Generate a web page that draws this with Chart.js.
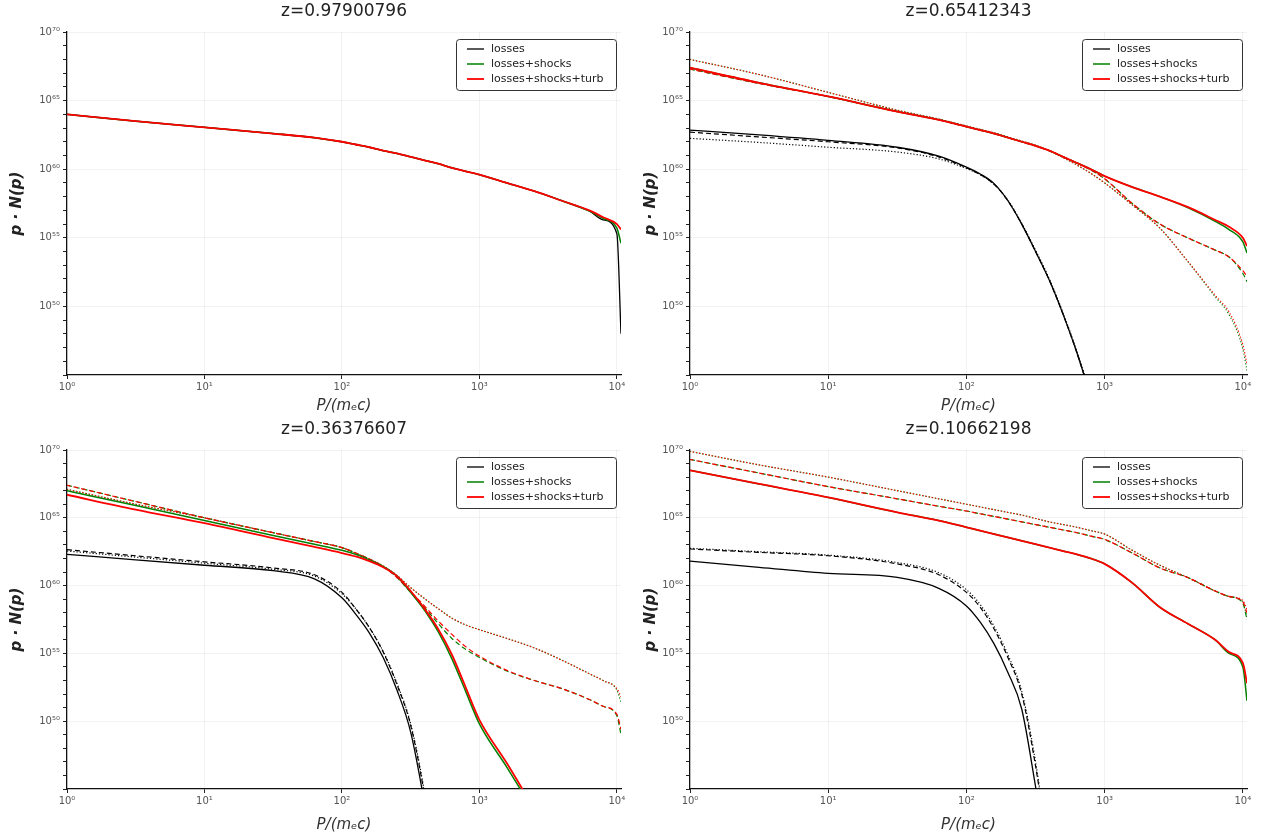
<!DOCTYPE html>
<html>
<head>
<meta charset="utf-8">
<script src="https://cdn.jsdelivr.net/npm/chart.js@4/dist/chart.umd.min.js"></script>
<style>
  body { margin: 0; background: #fff; }
  #wrap { position: relative; width: 1265px; height: 834px; overflow: hidden; }
  .panel { position: absolute; }
</style>
</head>
<body>
<div id="wrap">
  <div class="panel" style="left:0px;top:0px"><canvas id="c1" width="640" height="415"></canvas></div>
  <div class="panel" style="left:630px;top:0px"><canvas id="c2" width="635" height="415"></canvas></div>
  <div class="panel" style="left:0px;top:418px"><canvas id="c3" width="640" height="416"></canvas></div>
  <div class="panel" style="left:630px;top:418px"><canvas id="c4" width="635" height="416"></canvas></div>
</div>
<script>
// momentum grid, log10(p / m_e c)
const logP = [0, 0.5, 1, 1.5, 1.8, 2, 2.1, 2.2, 2.3, 2.4, 2.5, 2.6, 2.7, 2.8, 2.9, 3, 3.2, 3.4, 3.6, 3.8, 3.9, 4, 4.03];
const legendLabels = ["losses", "losses+shocks", "losses+shocks+turb"];
const panelTitles = ["z=0.97900796", "z=0.65412343", "z=0.36376607", "z=0.10662198"];
const yTickExps = [45, 46, 47, 48, 49, 50, 51, 52, 53, 54, 55, 56, 57, 58, 59, 60, 61, 62, 63, 64, 65, 66, 67, 68, 69, 70];
const yLabelExps = [50, 55, 60, 65, 70];
const xTickExps = [0, 1, 2, 3, 4];

// all series are log10(p * N(p))
// z = 0.979
const z1Black = [64.0, 63.5, 63.05, 62.6, 62.3, 62.0, 61.8, 61.6, 61.35, 61.15, 60.9, 60.65, 60.4, 60.1, 59.85, 59.6, 59.0, 58.4, 57.7, 56.95, 56.3, 55.3, 48.0];
const z1Green = [64.0, 63.5, 63.05, 62.6, 62.3, 62.0, 61.8, 61.6, 61.35, 61.15, 60.9, 60.65, 60.4, 60.1, 59.85, 59.6, 59.0, 58.4, 57.7, 56.95, 56.4, 55.7, 54.6];
const z1Red = [64.0, 63.5, 63.05, 62.6, 62.3, 62.0, 61.8, 61.6, 61.35, 61.15, 60.9, 60.65, 60.4, 60.1, 59.85, 59.6, 59.0, 58.4, 57.7, 57.0, 56.5, 56.0, 55.6];

// z = 0.654
const z2BlackSolid = [62.85, 62.5, 62.1, 61.6, 60.95, 60.15, 59.65, 58.95, 57.7, 56.0, 54.0, 51.9, 49.4, 46.6, 43.4, 40, null, null, null, null, null, null, null];
const z2BlackDash = [62.7, 62.35, 62.0, 61.55, 60.9, 60.1, 59.6, 58.9, 57.7, 56.0, 54.0, 51.9, 49.4, 46.6, 43.4, 40, null, null, null, null, null, null, null];
const z2BlackDot = [62.25, 61.95, 61.6, 61.25, 60.75, 60.05, 59.6, 58.9, 57.75, 56.05, 54.1, 52.0, 49.5, 46.7, 43.5, 40, null, null, null, null, null, null, null];
const z2GreenSolid = [67.4, 66.3, 65.3, 64.2, 63.6, 63.1, 62.85, 62.6, 62.3, 62.0, 61.7, 61.35, 60.9, 60.45, 60.0, 59.5, 58.7, 58.0, 57.2, 56.2, 55.6, 54.7, 53.9];
const z2RedSolid = [67.4, 66.3, 65.3, 64.2, 63.6, 63.1, 62.85, 62.6, 62.3, 62.0, 61.7, 61.35, 60.9, 60.45, 60.0, 59.5, 58.7, 58.0, 57.25, 56.3, 55.8, 55.0, 54.4];
const z2GreenDash = [67.3, 66.25, 65.3, 64.2, 63.6, 63.1, 62.85, 62.6, 62.3, 62.0, 61.7, 61.35, 60.9, 60.45, 59.95, 59.3, 57.5, 56.0, 55.0, 54.1, 53.6, 52.4, 51.8];
const z2RedDash = [67.3, 66.25, 65.3, 64.2, 63.6, 63.1, 62.85, 62.6, 62.3, 62.0, 61.7, 61.35, 60.9, 60.45, 59.95, 59.3, 57.5, 56.0, 55.0, 54.1, 53.6, 52.6, 52.2];
const z2GreenDot = [68.0, 66.9, 65.6, 64.3, 63.65, 63.15, 62.9, 62.65, 62.35, 62.05, 61.75, 61.35, 60.85, 60.3, 59.7, 59.0, 57.4, 55.7, 53.3, 50.7, 49.4, 46.9, 45.3];
const z2RedDot = [68.0, 66.9, 65.6, 64.3, 63.65, 63.15, 62.9, 62.65, 62.35, 62.05, 61.75, 61.35, 60.85, 60.3, 59.7, 59.0, 57.4, 55.7, 53.3, 50.8, 49.6, 47.2, 45.8];

// z = 0.364
const z3BlackSolid = [62.3, 61.9, 61.5, 61.1, 60.5, 59.1, 57.9, 56.5, 54.7, 52.3, 49.2, 44.0, 38, null, null, null, null, null, null, null, null, null, null];
const z3BlackDash = [62.65, 62.2, 61.75, 61.3, 60.8, 59.5, 58.3, 56.9, 55.1, 52.7, 49.7, 44.6, 38, null, null, null, null, null, null, null, null, null, null];
const z3BlackDot = [62.55, 62.1, 61.65, 61.2, 60.7, 59.4, 58.3, 56.9, 55.15, 52.8, 49.8, 44.8, 38, null, null, null, null, null, null, null, null, null, null];
const z3GreenSolid = [67.0, 65.9, 64.8, 63.7, 63.05, 62.6, 62.3, 61.9, 61.4, 60.7, 59.5, 58.2, 56.6, 54.6, 52.2, 49.8, 46.6, 43.3, 40, null, null, null, null];
const z3RedSolid = [66.7, 65.6, 64.6, 63.5, 62.85, 62.4, 62.15, 61.8, 61.35, 60.7, 59.6, 58.3, 56.8, 54.9, 52.5, 50.1, 46.9, 43.5, 40, null, null, null, null];
const z3GreenDash = [67.4, 66.2, 65.0, 63.9, 63.25, 62.8, 62.4, 61.95, 61.4, 60.6, 59.5, 58.4, 57.2, 56.1, 55.3, 54.7, 53.7, 53.0, 52.4, 51.6, 51.1, 50.4, 49.0];
const z3RedDash = [67.4, 66.2, 65.0, 63.9, 63.25, 62.8, 62.4, 61.95, 61.4, 60.6, 59.55, 58.5, 57.4, 56.4, 55.5, 54.8, 53.75, 53.0, 52.4, 51.6, 51.1, 50.5, 49.4];
const z3GreenDot = [67.1, 66.0, 65.0, 63.9, 63.25, 62.8, 62.4, 61.95, 61.45, 60.75, 59.85, 59.05, 58.3, 57.6, 57.1, 56.75, 56.1, 55.4, 54.5, 53.5, 53.0, 52.3, 51.4];
const z3RedDot = [67.1, 66.0, 65.0, 63.9, 63.25, 62.8, 62.4, 61.95, 61.45, 60.75, 59.85, 59.05, 58.3, 57.6, 57.1, 56.75, 56.1, 55.4, 54.5, 53.5, 53.0, 52.4, 51.8];

// z = 0.107
const z4BlackSolid = [61.8, 61.35, 60.9, 60.6, 59.8, 58.5, 57.3, 55.7, 53.6, 50.9, 45.2, 39, null, null, null, null, null, null, null, null, null, null, null];
const z4BlackDash = [62.7, 62.45, 62.2, 61.6, 60.8, 59.5, 58.4, 56.8, 54.7, 52.0, 46.7, 40, null, null, null, null, null, null, null, null, null, null, null];
const z4BlackDot = [62.75, 62.5, 62.25, 61.7, 60.95, 59.7, 58.6, 57.0, 54.9, 52.2, 47.0, 40, null, null, null, null, null, null, null, null, null, null, null];
const z4GreenSolid = [68.5, 67.5, 66.5, 65.4, 64.8, 64.3, 64.05, 63.8, 63.55, 63.3, 63.05, 62.8, 62.55, 62.3, 62.0, 61.6, 60.2, 58.4, 57.2, 56.0, 55.0, 54.0, 51.5];
const z4RedSolid = [68.5, 67.5, 66.5, 65.4, 64.8, 64.3, 64.05, 63.8, 63.55, 63.3, 63.05, 62.8, 62.55, 62.3, 62.0, 61.6, 60.2, 58.4, 57.2, 56.0, 55.1, 54.3, 52.8];
const z4GreenDash = [69.3, 68.3, 67.3, 66.4, 65.85, 65.5, 65.3, 65.1, 64.9, 64.7, 64.5, 64.3, 64.1, 63.9, 63.65, 63.4, 62.4, 61.3, 60.6, 59.6, 59.2, 58.7, 57.5];
const z4RedDash = [69.3, 68.3, 67.3, 66.4, 65.85, 65.5, 65.3, 65.1, 64.9, 64.7, 64.5, 64.3, 64.1, 63.9, 63.65, 63.4, 62.4, 61.3, 60.6, 59.6, 59.2, 58.8, 58.0];
const z4GreenDot = [69.9, 68.9, 68.0, 67.0, 66.4, 66.0, 65.8, 65.6, 65.4, 65.2, 64.95, 64.7, 64.5, 64.3, 64.05, 63.8, 62.6, 61.5, 60.6, 59.6, 59.2, 58.8, 57.6];
const z4RedDot = [69.9, 68.9, 68.0, 67.0, 66.4, 66.0, 65.8, 65.6, 65.4, 65.2, 64.95, 64.7, 64.5, 64.3, 64.05, 63.8, 62.6, 61.5, 60.6, 59.6, 59.2, 58.9, 58.2];

const BLACK = "#000000", GREEN = "#008000", RED = "#ff0000";
const FONT = "'DejaVu Sans', 'Liberation Sans', sans-serif";
const SUP = "⁰¹²³⁴⁵⁶⁷⁸⁹";
const sup = n => String(n).split("").map(d => SUP[+d]).join("");

const makeSet = (label, vals, color, style, legendIdx) => ({
    label: label,
    data: logP.map((e, i) => ({ x: Math.pow(10, e), y: vals[i] == null ? null : Math.pow(10, vals[i]) })),
    borderColor: color,
    borderWidth: style === "solid" ? (color === RED ? 1.8 : (color === GREEN ? 1.5 : 1.3)) : 1.2,
    borderDash: style === "dash" ? [5, 3] : (style === "dot" ? [1.2, 2] : []),
    // small shift on the red broken lines so a bit of green shows next to each dash
    borderDashOffset: color === RED ? (style === "dash" ? 1.5 : 0.6) : 0,
    pointRadius: 0,
    cubicInterpolationMode: "monotone",
    spanGaps: false,
    legendIdx: legendIdx
});

// later entries are drawn on top
const panelSets = [
    [
        makeSet(legendLabels[0], z1Black, BLACK, "solid", 0),
        makeSet(legendLabels[1], z1Green, GREEN, "solid", 1),
        makeSet(legendLabels[2], z1Red, RED, "solid", 2)
    ],
    [
        makeSet("", z2BlackDot, BLACK, "dot"), makeSet("", z2BlackDash, BLACK, "dash"),
        makeSet("", z2GreenDot, GREEN, "dot"), makeSet("", z2RedDot, RED, "dot"),
        makeSet("", z2GreenDash, GREEN, "dash"), makeSet("", z2RedDash, RED, "dash"),
        makeSet(legendLabels[0], z2BlackSolid, BLACK, "solid", 0),
        makeSet(legendLabels[1], z2GreenSolid, GREEN, "solid", 1),
        makeSet(legendLabels[2], z2RedSolid, RED, "solid", 2)
    ],
    [
        makeSet("", z3BlackDot, BLACK, "dot"), makeSet("", z3BlackDash, BLACK, "dash"),
        makeSet("", z3GreenDot, GREEN, "dot"), makeSet("", z3RedDot, RED, "dot"),
        makeSet("", z3GreenDash, GREEN, "dash"), makeSet("", z3RedDash, RED, "dash"),
        makeSet(legendLabels[0], z3BlackSolid, BLACK, "solid", 0),
        makeSet(legendLabels[1], z3GreenSolid, GREEN, "solid", 1),
        makeSet(legendLabels[2], z3RedSolid, RED, "solid", 2)
    ],
    [
        makeSet("", z4BlackDot, BLACK, "dot"), makeSet("", z4BlackDash, BLACK, "dash"),
        makeSet("", z4GreenDot, GREEN, "dot"), makeSet("", z4RedDot, RED, "dot"),
        makeSet("", z4GreenDash, GREEN, "dash"), makeSet("", z4RedDash, RED, "dash"),
        makeSet(legendLabels[0], z4BlackSolid, BLACK, "solid", 0),
        makeSet(legendLabels[1], z4GreenSolid, GREEN, "solid", 1),
        makeSet(legendLabels[2], z4RedSolid, RED, "solid", 2)
    ]
];
panelSets.forEach(sets => sets.forEach((d, i) => { d.order = -i; }));

// legend box drawn inside the plot, top right corner
const insideLegend = {
    id: "insideLegend",
    afterDraw(chart) {
        const { ctx, chartArea } = chart;
        const items = chart.data.datasets.filter(d => d.legendIdx !== undefined)
            .sort((a, b) => a.legendIdx - b.legendIdx);
        const w = 160, h = 51;
        const x0 = chartArea.right - 5 - w, y0 = chartArea.top + 7;
        ctx.save();
        ctx.beginPath();
        ctx.roundRect(x0 + 0.5, y0 + 0.5, w, h, 3);
        ctx.fillStyle = "#fff";
        ctx.fill();
        ctx.strokeStyle = "#333";
        ctx.lineWidth = 1;
        ctx.stroke();
        ctx.font = "11px " + FONT;
        ctx.textBaseline = "middle";
        items.forEach((d, i) => {
            const y = y0 + 10 + i * 15;
            ctx.beginPath();
            ctx.moveTo(x0 + 11, y);
            ctx.lineTo(x0 + 28, y);
            ctx.strokeStyle = d.borderColor;
            ctx.lineWidth = d.borderWidth;
            ctx.stroke();
            ctx.fillStyle = "#222";
            ctx.fillText(d.label, x0 + 35, y);
        });
        ctx.restore();
    }
};

const panelTitle = {
    id: "panelTitle",
    afterDraw(chart, args, opts) {
        const { ctx, chartArea } = chart;
        ctx.save();
        ctx.font = "17px " + FONT;
        ctx.fillStyle = "#222";
        ctx.textAlign = "center";
        ctx.textBaseline = "middle";
        ctx.fillText(opts.text, (chartArea.left + chartArea.right) / 2, chartArea.top - 20);
        ctx.restore();
    }
};

const panelLayout = [
    { id: "c1", yW: 67, xH: 40, padR: 19, yTitlePad: 8 },
    { id: "c2", yW: 60, xH: 40, padR: 18, yTitlePad: 12 },
    { id: "c3", yW: 67, xH: 45, padR: 19, yTitlePad: 8 },
    { id: "c4", yW: 60, xH: 45, padR: 18, yTitlePad: 12 }
];

const expOf = v => Math.round(Math.log10(v));
const isMajorY = v => yLabelExps.includes(expOf(v));

panelLayout.forEach((pl, k) => {
    const ctx = document.getElementById(pl.id).getContext("2d");
    new Chart(ctx, {
        type: "line",
        data: { datasets: panelSets[k] },
        options: {
            responsive: false,
            animation: false,
            layout: { padding: { top: 32, right: pl.padR, left: 0, bottom: 0 } },
            plugins: {
                legend: { display: false },
                tooltip: { enabled: false },
                panelTitle: { text: panelTitles[k] }
            },
            scales: {
                x: {
                    type: "logarithmic",
                    min: 1,
                    max: Math.pow(10, 4.03),
                    afterBuildTicks: s => { s.ticks = xTickExps.map(e => ({ value: Math.pow(10, e) })); },
                    afterFit: s => { s.height = pl.xH; },
                    ticks: {
                        autoSkip: false,
                        maxRotation: 0,
                        padding: 2,
                        color: "#555",
                        font: { family: FONT, size: 10 },
                        callback: v => "10" + sup(expOf(v))
                    },
                    grid: {
                        color: c => (c.tick && c.tick.value > 1 ? "rgba(0,0,0,0.05)" : "rgba(0,0,0,0)"),
                        tickColor: "#222",
                        tickLength: 4
                    },
                    border: { color: "#111", width: 1.3 },
                    title: {
                        display: true,
                        text: "P/(mₑc)",
                        color: "#333",
                        padding: { top: 0, bottom: 0 },
                        font: { family: FONT, size: 15, style: "italic" }
                    }
                },
                y: {
                    type: "logarithmic",
                    min: 1e45,
                    max: 1e70,
                    afterBuildTicks: s => { s.ticks = yTickExps.map(e => ({ value: Math.pow(10, e) })); },
                    afterFit: s => { s.width = pl.yW; },
                    ticks: {
                        autoSkip: false,
                        padding: 3,
                        color: "#555",
                        font: { family: FONT, size: 10 },
                        callback: v => (isMajorY(v) ? "10" + sup(expOf(v)) : "")
                    },
                    grid: {
                        color: c => (c.tick && isMajorY(c.tick.value) ? "rgba(0,0,0,0.05)" : "rgba(0,0,0,0)"),
                        tickColor: "#222",
                        tickLength: 4
                    },
                    border: { color: "#111", width: 1.3 },
                    title: {
                        display: true,
                        text: "p · N(p)",
                        color: "#222",
                        padding: { top: pl.yTitlePad, bottom: 0 },
                        font: { family: FONT, size: 15, style: "italic", weight: "bold" }
                    }
                }
            }
        },
        plugins: [insideLegend, panelTitle]
    });
});
</script>
</body>
</html>
